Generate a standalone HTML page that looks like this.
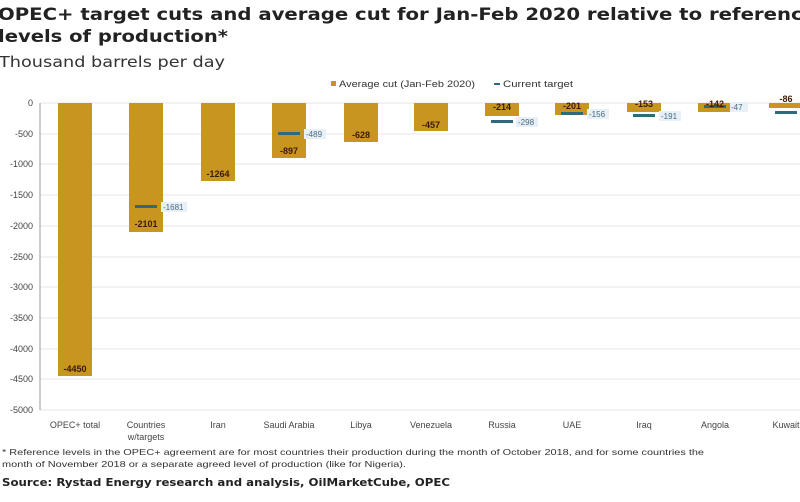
<!DOCTYPE html>
<html><head><meta charset="utf-8"><style>
body{margin:0;width:800px;height:497px;overflow:hidden;background:#fff;font-family:"Liberation Sans",sans-serif}
</style></head><body>
<svg width="800" height="497" xmlns="http://www.w3.org/2000/svg" font-family="Liberation Sans, sans-serif">
<text x="-2" y="20" font-size="17" font-weight="bold" fill="#222" font-family="DejaVu Sans, sans-serif" textLength="818" lengthAdjust="spacingAndGlyphs">OPEC+ target cuts and average cut for Jan-Feb 2020 relative to reference</text>
<text x="-2" y="42" font-size="17" font-weight="bold" fill="#222" font-family="DejaVu Sans, sans-serif" textLength="230" lengthAdjust="spacingAndGlyphs">levels of production*</text>
<text x="-1" y="67" font-size="15" fill="#333" font-family="DejaVu Sans, sans-serif" textLength="226" lengthAdjust="spacingAndGlyphs">Thousand barrels per day</text>
<rect x="331" y="81" width="5" height="5" fill="#c8961e"/>
<text x="339" y="87" font-size="9" fill="#333" textLength="136" lengthAdjust="spacingAndGlyphs">Average cut (Jan-Feb 2020)</text>
<rect x="494" y="83" width="6" height="2" fill="#2d6a7a"/>
<text x="503" y="87" font-size="9" fill="#333" textLength="70" lengthAdjust="spacingAndGlyphs">Current target</text>
<g stroke="#e6e6e6" stroke-width="1">
<line x1="40" x2="800" y1="103" y2="103"/><line x1="40" x2="800" y1="134" y2="134"/><line x1="40" x2="800" y1="164" y2="164"/><line x1="40" x2="800" y1="195" y2="195"/><line x1="40" x2="800" y1="226" y2="226"/><line x1="40" x2="800" y1="257" y2="257"/><line x1="40" x2="800" y1="287" y2="287"/><line x1="40" x2="800" y1="318" y2="318"/><line x1="40" x2="800" y1="349" y2="349"/><line x1="40" x2="800" y1="379" y2="379"/><line x1="40" x2="800" y1="410" y2="410"/>
</g>
<line x1="40" x2="40" y1="103" y2="410" stroke="#999"/>
<g font-size="9" fill="#444" text-anchor="end">
<text x="33" y="106">0</text><text x="33" y="137">-500</text><text x="33" y="167">-1000</text><text x="33" y="198">-1500</text><text x="33" y="229">-2000</text><text x="33" y="260">-2500</text><text x="33" y="290">-3000</text><text x="33" y="321">-3500</text><text x="33" y="352">-4000</text><text x="33" y="382">-4500</text><text x="33" y="413">-5000</text>
</g>
<g fill="#c8961e">
<rect x="58" y="103" width="34" height="273"/>
<rect x="129" y="103" width="34" height="129"/>
<rect x="201" y="103" width="34" height="78"/>
<rect x="272" y="103" width="34" height="55"/>
<rect x="344" y="103" width="34" height="39"/>
<rect x="414" y="103" width="34" height="28"/>
<rect x="485" y="103" width="34" height="13"/>
<rect x="555" y="103" width="34" height="12"/>
<rect x="627" y="103" width="34" height="9"/>
<rect x="698" y="103" width="34" height="9"/>
<rect x="769" y="103" width="34" height="5"/>
</g>
<g fill="#2d6a7a">
<rect x="135" y="205" width="22" height="3"/>
<rect x="278" y="132" width="22" height="3"/>
<rect x="491" y="120" width="22" height="3"/>
<rect x="561" y="112" width="22" height="3"/>
<rect x="633" y="114" width="22" height="3"/>
<rect x="704" y="105" width="22" height="3"/>
<rect x="775" y="111" width="22" height="3"/>
</g>
<g font-size="8" fill="#4a6a80">
<rect x="161" y="202" width="26" height="10" fill="#e6f0f6"/><text x="163" y="210">-1681</text>
<rect x="304" y="129" width="22" height="10" fill="#e6f0f6"/><text x="306" y="137">-489</text>
<rect x="516" y="117" width="22" height="10" fill="#e6f0f6"/><text x="518" y="125">-298</text>
<rect x="587" y="109" width="22" height="10" fill="#e6f0f6"/><text x="589" y="117">-156</text>
<rect x="659" y="111" width="22" height="10" fill="#e6f0f6"/><text x="661" y="119">-191</text>
<rect x="730" y="102" width="18" height="10" fill="#e6f0f6"/><text x="731" y="110">-47</text>
</g>
<g font-size="9" font-weight="bold" fill="#3a1a0a" text-anchor="middle">
<text x="75" y="372">-4450</text><text x="146" y="227">-2101</text><text x="218" y="177">-1264</text><text x="289" y="154">-897</text><text x="361" y="138">-628</text><text x="431" y="128">-457</text><text x="502" y="110">-214</text><text x="572" y="109">-201</text><text x="644" y="107">-153</text><text x="715" y="107">-142</text><text x="786" y="102">-86</text>
</g>
<g font-size="9" fill="#444" text-anchor="middle">
<text x="75" y="428">OPEC+ total</text><text x="146" y="428">Countries</text><text x="146" y="440">w/targets</text><text x="218" y="428">Iran</text><text x="289" y="428">Saudi Arabia</text><text x="361" y="428">Libya</text><text x="431" y="428">Venezuela</text><text x="502" y="428">Russia</text><text x="572" y="428">UAE</text><text x="644" y="428">Iraq</text><text x="715" y="428">Angola</text><text x="786" y="428">Kuwait</text>
</g>
<text x="2" y="455" font-size="8.5" fill="#333" textLength="702" lengthAdjust="spacingAndGlyphs">* Reference levels in the OPEC+ agreement are for most countries their production during the month of October 2018, and for some countries the</text>
<text x="2" y="467" font-size="8.5" fill="#333" textLength="404" lengthAdjust="spacingAndGlyphs">month of November 2018 or a separate agreed level of production (like for Nigeria).</text>
<text x="2" y="486" font-size="11" font-weight="bold" fill="#222" font-family="DejaVu Sans, sans-serif" textLength="448" lengthAdjust="spacingAndGlyphs">Source: Rystad Energy research and analysis, OilMarketCube, OPEC</text>
</svg>
</body></html>
